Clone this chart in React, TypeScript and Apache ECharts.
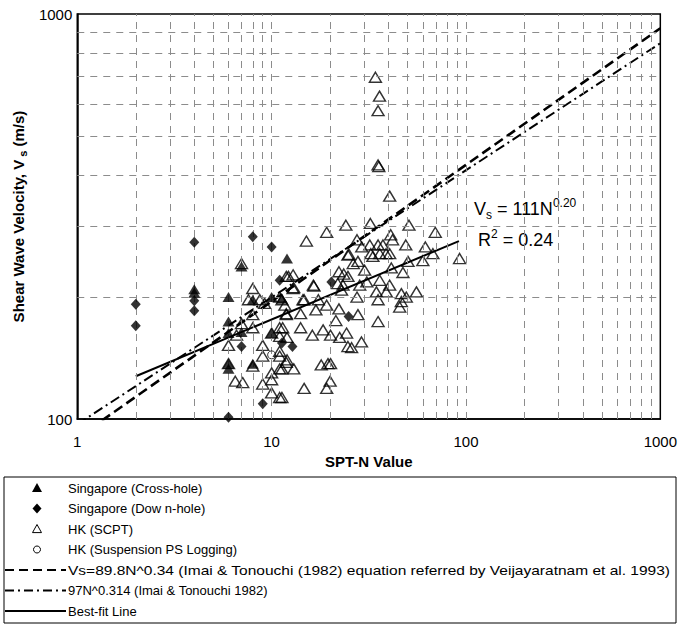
import React, { useEffect, useRef } from "react";
import * as echarts from "echarts";

// ---- Data ----
const singaporeCrossHole: number[][] = [
  [4, 209], [4, 205], [6, 200], [6, 174], [6, 163], [6, 137], [6, 133],
  [7, 164], [7, 238], [8, 197], [8, 137], [10, 200], [10, 163], [11.3, 198], [12, 249],
];

const singaporeDownHole: number[][] = [
  [2, 192], [2, 170], [4, 273], [4, 196], [4, 185], [8, 282], [10, 266], [11, 220],
  [7, 151], [11.3, 154], [9, 109], [6, 101], [12.8, 151], [24.9, 179], [20.3, 218],
];

const hkSCPT: number[][] = [
  [7, 242], [8, 210], [7.6, 197], [8.7, 197], [9.2, 193], [11, 200], [11.9, 225], [11.9, 182],
  [8, 181], [7, 172], [8, 168], [6.6, 161], [6, 152], [9, 152], [10, 163], [11, 168], [11, 160],
  [9, 143], [11, 147], [11, 143], [11.9, 138], [11, 133], [6, 137], [8, 135], [10, 130], [10, 125],
  [9, 122], [6.5, 124], [7.1, 123], [10, 116], [11, 113],
  [34.2, 698], [35.9, 627], [35.3, 577], [35.3, 424], [35.6, 420], [40.5, 355], [24.1, 301],
  [32.2, 304], [50.9, 301], [19.2, 289], [15.1, 275], [69.5, 289], [41, 285], [41.9, 277],
  [27.5, 277], [29.1, 266], [32, 269], [35.3, 269], [37.4, 269], [49, 269], [61.8, 266],
  [67.6, 256], [24.7, 254], [32.4, 256], [36, 256], [38.8, 256], [40.5, 256], [92.7, 249],
  [60, 246], [50.3, 245], [47.4, 230], [55.6, 206], [46.5, 204], [49.3, 200], [46.5, 195],
  [45.6, 189], [41.3, 236], [40.5, 214], [36, 220], [34.6, 206], [35.3, 197], [38.9, 206],
  [33.2, 252], [30.1, 233], [28.4, 214], [30.9, 218], [27.5, 200], [27.8, 181], [35.3, 174],
  [29, 155], [25.8, 150], [24.7, 151], [24.3, 163], [22.4, 159], [22.2, 187], [21.4, 175],
  [20.1, 161], [18.4, 166], [16.2, 161], [14.1, 168], [14.1, 182], [11.9, 181], [12, 159],
  [11.4, 168], [12, 140], [13, 133], [11.3, 133], [18, 136], [19.5, 137], [20.1, 137],
  [20, 124], [19.2, 119], [14.7, 119], [11.3, 113], [17.4, 197], [19.2, 191], [16.9, 186],
  [16.4, 214], [14.7, 197], [13, 211], [22.2, 231], [23.5, 228], [24.7, 225], [21.9, 216],
  [23.3, 214], [22.9, 208], [26.3, 242], [27.8, 245], [25, 255], [16.5, 213], [12.9, 227],
  [12.2, 225], [12.9, 210], [14.5, 197], [11.3, 197], [11.7, 191],
];

const hkSuspension: number[][] = [[10, 144]];

// Reference lines (straight on log-log axes, given by their end points)
const imaiVeija: number[][] = [[1, 89.8], [1000, 922]];
const imaiTonouchi: number[][] = [[1, 97], [1000, 847]];
const bestFit: number[][] = [[2, 127.5], [92, 275]];

// Axis ticks / gridlines
const xTickLabels = [1, 10, 100, 1000];
const yTickLabels = [100, 1000];
const xGridValues = [2, 3, 4, 5, 6, 7, 8, 9, 10, 20, 30, 40, 50, 60, 70, 80, 90, 100, 200, 300, 400, 500, 600, 700, 800, 900];
const yGridValues = [200, 300, 400, 500, 600, 700, 800, 900];

const legendItems = [
  { name: "Singapore (Cross-hole)", kind: "filledTriangle" },
  { name: "Singapore (Dow n-hole)", kind: "diamond" },
  { name: "HK (SCPT)", kind: "hollowTriangle" },
  { name: "HK (Suspension PS Logging)", kind: "circle" },
  { name: "Vs=89.8N^0.34 (Imai & Tonouchi (1982) equation referred by Veijayaratnam et al. 1993)", kind: "dash" },
  { name: "97N^0.314 (Imai & Tonouchi 1982)", kind: "dashdot" },
  { name: "Best-fit Line", kind: "solid" },
];

const FONT = "'Liberation Sans', Arial, Helvetica, sans-serif";

function measure(text: string, font: string): number {
  try {
    const c = document.createElement("canvas").getContext("2d");
    if (!c) return 0;
    c.font = font;
    return c.measureText(text).width;
  } catch (e) {
    return 0;
  }
}

export default function App() {
  const ref = useRef<HTMLDivElement>(null);

  useEffect(() => {
    document.body.style.margin = "0";
    if (!ref.current) return;
    const chart = echarts.init(ref.current, undefined, { renderer: "svg" });

    const gridColor = "#8c8c8c";
    const gridLines: any[] = [];
    xGridValues.forEach((v) => gridLines.push([{ coord: [v, 100] }, { coord: [v, 1000] }]));
    yGridValues.forEach((v) => gridLines.push([{ coord: [1, v] }, { coord: [1000, v] }]));

    // Legend drawn with graphic elements
    const lgTop = 477;
    const lgLeft = 4;
    const lgRight = 676;
    const lgBottom = 623;
    const rowY0 = 488;
    const rowGap = 20.5;
    const symX = 37;
    const textX = 68;
    const legendFontSize = 13;
    const legendEls: any[] = [
      {
        type: "rect",
        shape: { x: lgLeft, y: lgTop, width: lgRight - lgLeft, height: lgBottom - lgTop },
        style: { fill: "#fff", stroke: "#000", lineWidth: 1 },
        silent: true,
      },
    ];
    legendItems.forEach((it, i) => {
      const y = rowY0 + i * rowGap;
      if (it.kind === "filledTriangle" || it.kind === "hollowTriangle") {
        const s = it.kind === "filledTriangle" ? 5 : 4.5;
        legendEls.push({
          type: "polygon",
          shape: { points: [[symX, y - s], [symX + s, y + s * 0.8], [symX - s, y + s * 0.8]] },
          style: it.kind === "filledTriangle" ? { fill: "#000" } : { fill: "none", stroke: "#000", lineWidth: 1 },
          silent: true,
        });
      } else if (it.kind === "diamond") {
        legendEls.push({
          type: "polygon",
          shape: { points: [[symX, y - 5], [symX + 4.5, y], [symX, y + 5], [symX - 4.5, y]] },
          style: { fill: "#000" },
          silent: true,
        });
      } else if (it.kind === "circle") {
        legendEls.push({
          type: "circle",
          shape: { cx: symX, cy: y, r: 3.5 },
          style: { fill: "none", stroke: "#000", lineWidth: 1 },
          silent: true,
        });
      } else {
        const dash = it.kind === "dash" ? [9, 5] : it.kind === "dashdot" ? [9, 4, 2, 4] : null;
        legendEls.push({
          type: "line",
          shape: { x1: lgLeft + 1, y1: y, x2: 66, y2: y },
          style: { stroke: "#000", lineWidth: 2, lineDash: dash || undefined },
          silent: true,
        });
      }
      // the long entry spans the whole legend box in the reference
      let scaleX = 1;
      if (it.kind === "dash") {
        const w = measure(it.name, `${legendFontSize}px 'Liberation Sans', Arial, sans-serif`);
        if (w > 0) scaleX = Math.max(1, Math.min(1.3, (lgRight - 5 - textX) / w));
      }
      legendEls.push({
        type: "text",
        x: textX,
        y: y,
        scaleX,
        style: {
          text: it.name,
          fontFamily: FONT,
          fontSize: legendFontSize,
          fill: "#000",
          verticalAlign: "middle",
          align: "left",
        },
        silent: true,
      });
    });

    // Equation annotation
    const annRich = {
      m: { fontSize: 18, lineHeight: 24, verticalAlign: "middle", fontFamily: FONT, color: "#000" },
      s: { fontSize: 12, lineHeight: 12, verticalAlign: "bottom", fontFamily: FONT, color: "#000" },
      p: { fontSize: 12, lineHeight: 12, verticalAlign: "top", fontFamily: FONT, color: "#000" },
    };
    const annEls: any[] = [
      {
        type: "text",
        x: 474,
        y: 209,
        style: {
          text: "{m|V}{s|s}{m| = 111N}{p|0.20}",
          fontFamily: FONT,
          fill: "#000",
          verticalAlign: "middle",
          rich: annRich,
        },
        silent: true,
      },
      {
        type: "text",
        x: 478,
        y: 240,
        style: {
          text: "{m|R}{p|2}{m| = 0.24}",
          fontFamily: FONT,
          fill: "#000",
          verticalAlign: "middle",
          rich: annRich,
        },
        silent: true,
      },
    ];

    const option: any = {
      animation: false,
      backgroundColor: "#fff",
      textStyle: { fontFamily: FONT },
      grid: {
        left: 77,
        top: 14,
        width: 584,
        height: 405,
        show: true,
        borderColor: "#000",
        borderWidth: 1.5,
        backgroundColor: "transparent",
      },
      xAxis: {
        type: "log",
        logBase: 10,
        min: 1,
        max: 1000,
        name: "SPT-N Value",
        nameLocation: "middle",
        nameGap: 32,
        nameTextStyle: { fontFamily: FONT, fontSize: 15, fontWeight: "bold", color: "#000" },
        axisLine: { show: true, lineStyle: { color: "#000", width: 1.5 } },
        axisTick: { show: false },
        splitLine: { show: false },
        axisLabel: {
          fontFamily: FONT,
          fontSize: 15,
          color: "#000",
          margin: 15,
          formatter: (v: number) => (xTickLabels.includes(Math.round(v)) ? String(Math.round(v)) : ""),
        },
      },
      yAxis: {
        type: "log",
        logBase: 10,
        min: 100,
        max: 1000,
        name: "Shear Wave Velocity, V{s| s} (m/s)",
        nameLocation: "middle",
        nameGap: 37,
        nameRotate: 90,
        nameTextStyle: {
          fontFamily: FONT,
          fontSize: 15,
          fontWeight: "bold",
          color: "#000",
          lineHeight: 20,
          rich: {
            s: { fontFamily: FONT, fontSize: 11, fontWeight: "bold", color: "#000", lineHeight: 12, verticalAlign: "bottom" },
          },
        },
        axisLine: { show: true, lineStyle: { color: "#000", width: 1.5 } },
        axisTick: { show: false },
        splitLine: { show: false },
        axisLabel: {
          fontFamily: FONT,
          fontSize: 15,
          color: "#000",
          margin: 5,
          formatter: (v: number) => (yTickLabels.includes(Math.round(v)) ? String(Math.round(v)) : ""),
        },
      },
      series: [
        {
          type: "line",
          name: "grid",
          data: [[1, 100]],
          symbol: "none",
          lineStyle: { opacity: 0 },
          silent: true,
          z: 1,
          markLine: {
            silent: true,
            symbol: ["none", "none"],
            label: { show: false },
            lineStyle: { color: gridColor, width: 1, type: [7, 6] },
            emphasis: { disabled: true },
            data: gridLines,
          },
        },
        {
          type: "line",
          name: "Vs=89.8N^0.34",
          data: imaiVeija,
          symbol: "none",
          lineStyle: { color: "#000", width: 2.6, type: [10, 5] },
          z: 3,
          silent: true,
        },
        {
          type: "line",
          name: "97N^0.314",
          data: imaiTonouchi,
          symbol: "none",
          lineStyle: { color: "#000", width: 2, type: [10, 4, 2, 4] },
          z: 3,
          silent: true,
        },
        {
          type: "line",
          name: "Best-fit Line",
          data: bestFit,
          symbol: "none",
          lineStyle: { color: "#000", width: 2 },
          z: 3,
          silent: true,
        },
        {
          type: "scatter",
          name: "HK (SCPT)",
          data: hkSCPT,
          symbol: "triangle",
          symbolSize: [12, 10],
          itemStyle: { color: "rgba(255,255,255,0)", borderColor: "#000", borderWidth: 1.4 },
          z: 4,
          silent: true,
        },
        {
          type: "scatter",
          name: "Singapore (Cross-hole)",
          data: singaporeCrossHole,
          symbol: "triangle",
          symbolSize: [12, 10],
          itemStyle: { color: "#000" },
          z: 5,
          silent: true,
        },
        {
          type: "scatter",
          name: "Singapore (Down-hole)",
          data: singaporeDownHole,
          symbol: "diamond",
          symbolSize: [10, 11],
          itemStyle: { color: "#000" },
          z: 5,
          silent: true,
        },
        {
          type: "scatter",
          name: "HK (Suspension PS Logging)",
          data: hkSuspension,
          symbol: "circle",
          symbolSize: 8,
          itemStyle: { color: "rgba(255,255,255,0)", borderColor: "#000", borderWidth: 1 },
          z: 5,
          silent: true,
        },
      ],
      graphic: [...legendEls, ...annEls],
    };

    chart.setOption(option);
    return () => chart.dispose();
  }, []);

  return <div ref={ref} style={{ width: 680, height: 626 }} />;
}
